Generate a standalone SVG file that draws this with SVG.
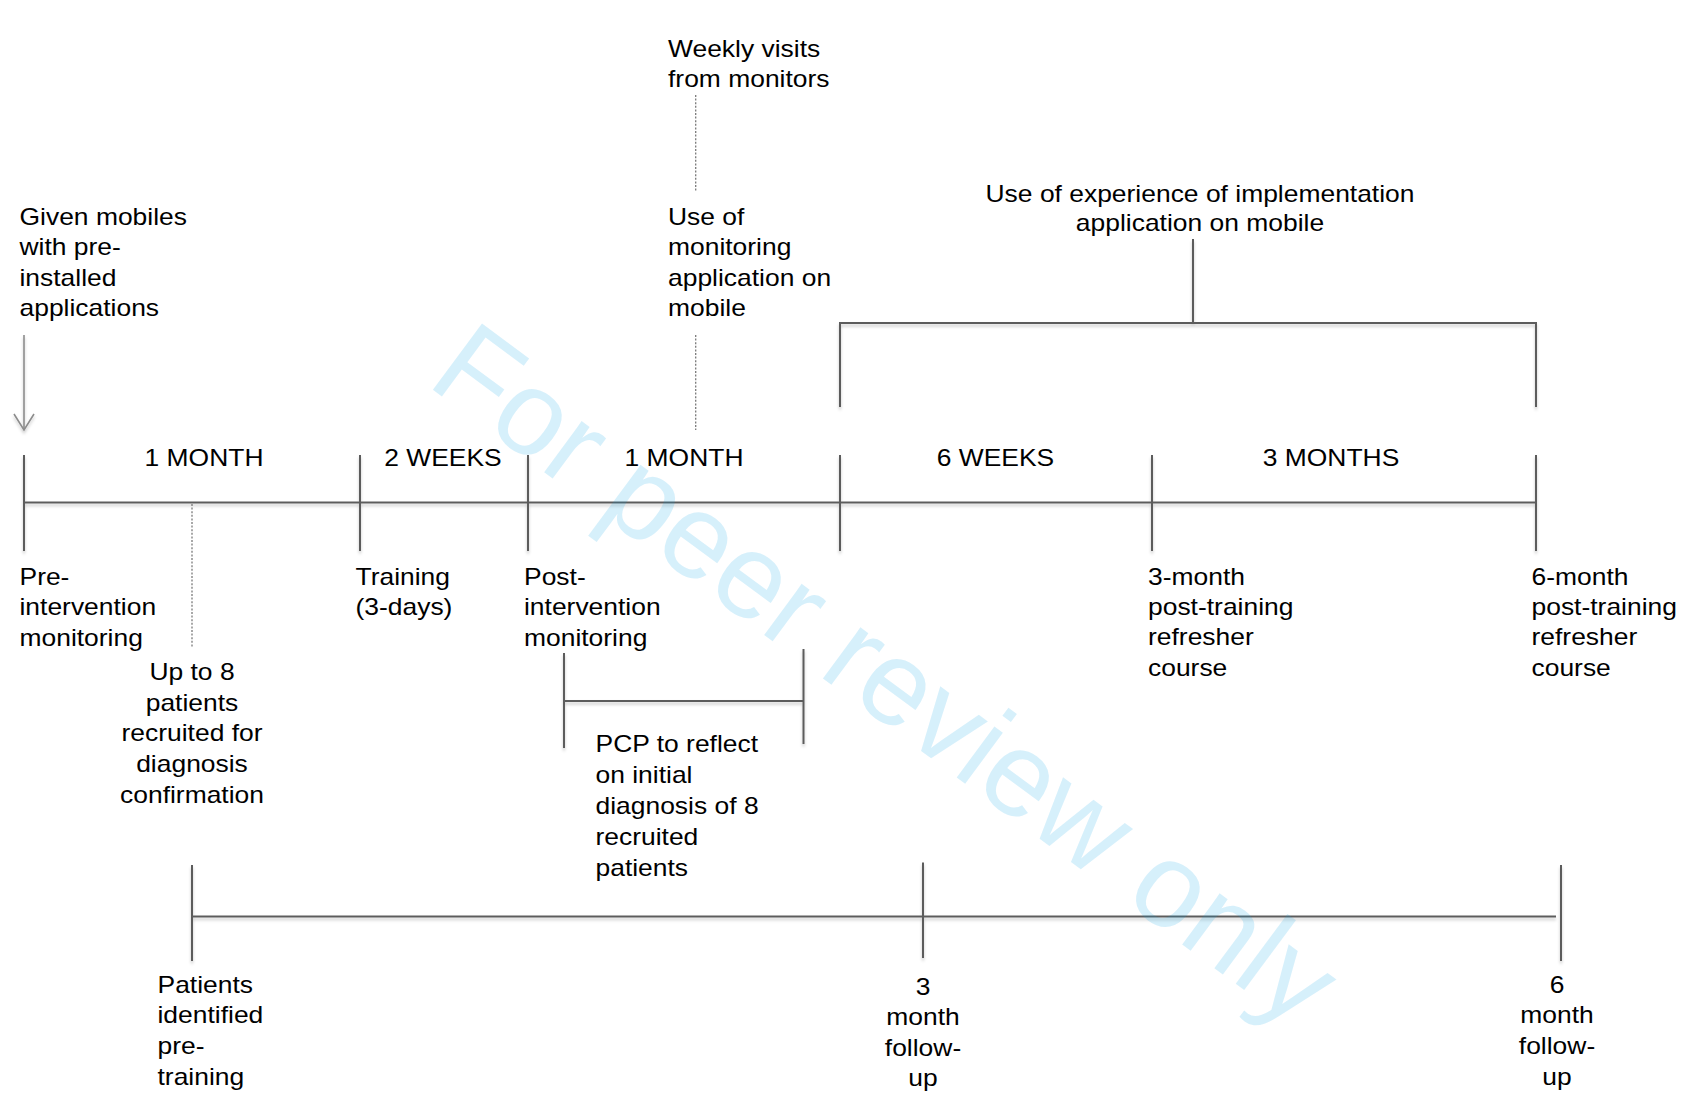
<svg xmlns="http://www.w3.org/2000/svg" width="1691" height="1104" viewBox="0 0 1691 1104">
  <style>
    .t { font-family: "Liberation Sans", Arial, sans-serif; font-size: 23.4px; fill: #000; }
    .c { text-anchor: middle; }
    .ln { stroke: #5c5c5c; stroke-width: 2; fill: none; stroke-linecap: butt; }
    .dot { stroke: #7a7a7a; stroke-width: 1.3; stroke-dasharray: 2 1.6; fill: none; }
    .arr { stroke: #8c8c8c; stroke-width: 1.6; fill: none; }
    .wm { font-family: "Liberation Sans", Arial, sans-serif; font-size: 120px; fill: #00a0e6; fill-opacity: 0.16; }
  </style>
  <defs>
    <filter id="shadow" x="-5%" y="-5%" width="110%" height="110%">
      <feDropShadow dx="0" dy="2.5" stdDeviation="1.6" flood-color="#000" flood-opacity="0.22"/>
    </filter>
  </defs>

  <rect width="1691" height="1104" fill="#fff"/>

  <!-- connectors: timelines, ticks, brackets, guide lines -->
  <g id="connectors">
    <g filter="url(#shadow)">
      <!-- main timeline -->
      <line class="ln" x1="24" y1="502.5" x2="1536" y2="502.5"/>
      <line class="ln" x1="24" y1="455" x2="24" y2="551"/>
      <line class="ln" x1="360" y1="455" x2="360" y2="551"/>
      <line class="ln" x1="528" y1="455" x2="528" y2="551"/>
      <line class="ln" x1="840" y1="455" x2="840" y2="551"/>
      <line class="ln" x1="1152" y1="455" x2="1152" y2="551"/>
      <line class="ln" x1="1536" y1="455" x2="1536" y2="551"/>
      <!-- implementation bracket -->
      <polyline class="ln" points="840,407 840,323 1536,323 1536,407"/>
      <line class="ln" x1="1193" y1="239" x2="1193" y2="323"/>
      <!-- reflection bracket -->
      <line class="ln" x1="564" y1="653" x2="564" y2="748"/>
      <line class="ln" x1="803.5" y1="649" x2="803.5" y2="744"/>
      <line class="ln" x1="564" y1="701" x2="803.5" y2="701"/>
      <!-- patient follow-up timeline -->
      <line class="ln" x1="192" y1="916.5" x2="1556" y2="916.5"/>
      <line class="ln" x1="192" y1="865" x2="192" y2="961"/>
      <line class="ln" x1="923" y1="862.5" x2="923" y2="958"/>
      <line class="ln" x1="1561" y1="865" x2="1561" y2="961"/>
      <!-- mobiles arrow -->
      <line class="arr" x1="24" y1="335" x2="24" y2="430"/>
      <polyline class="arr" points="14,414 24,430 34,414"/>
    </g>
    <!-- dotted guides -->
    <line class="dot" x1="192" y1="504" x2="192" y2="647"/>
    <line class="dot" x1="695.7" y1="95" x2="695.7" y2="192"/>
    <line class="dot" x1="695.7" y1="335" x2="695.7" y2="430"/>
  </g>

  <!-- durations -->
  <g id="dur-1">
    <text class="t c" transform="translate(204,466) scale(1.13,1)">1 MONTH</text>
  </g>
  <g id="dur-2">
    <text class="t c" transform="translate(443,466) scale(1.13,1)">2 WEEKS</text>
  </g>
  <g id="dur-3">
    <text class="t c" transform="translate(684,466) scale(1.13,1)">1 MONTH</text>
  </g>
  <g id="dur-4">
    <text class="t c" transform="translate(995.5,466) scale(1.13,1)">6 WEEKS</text>
  </g>
  <g id="dur-5">
    <text class="t c" transform="translate(1331,466) scale(1.13,1)">3 MONTHS</text>
  </g>

  <!-- labels above the timeline -->
  <g id="mobiles">
    <text class="t" transform="translate(19.5,225) scale(1.13,1)"><tspan x="0" dy="0">Given mobiles</tspan><tspan x="0" dy="30.3">with pre-</tspan><tspan x="0" dy="30.3">installed</tspan><tspan x="0" dy="30.3">applications</tspan></text>
  </g>
  <g id="weekly-visits">
    <text class="t" transform="translate(668,57.3) scale(1.13,1)"><tspan x="0" dy="0">Weekly visits</tspan><tspan x="0" dy="30">from monitors</tspan></text>
  </g>
  <g id="monitoring-app">
    <text class="t" transform="translate(668,225) scale(1.13,1)"><tspan x="0" dy="0">Use of</tspan><tspan x="0" dy="30.3">monitoring</tspan><tspan x="0" dy="30.3">application on</tspan><tspan x="0" dy="30.3">mobile</tspan></text>
  </g>
  <g id="implementation-app">
    <text class="t c" transform="translate(1200,201.5) scale(1.13,1)"><tspan x="0" dy="0">Use of experience of implementation</tspan><tspan x="0" dy="29.7">application on mobile</tspan></text>
  </g>

  <!-- labels below the timeline -->
  <g id="pre-intervention">
    <text class="t" transform="translate(19.5,585) scale(1.13,1)"><tspan x="0" dy="0">Pre-</tspan><tspan x="0" dy="30.5">intervention</tspan><tspan x="0" dy="30.5">monitoring</tspan></text>
  </g>
  <g id="training">
    <text class="t" transform="translate(355.5,585) scale(1.13,1)"><tspan x="0" dy="0">Training</tspan><tspan x="0" dy="30.5">(3-days)</tspan></text>
  </g>
  <g id="post-intervention">
    <text class="t" transform="translate(524,585) scale(1.13,1)"><tspan x="0" dy="0">Post-</tspan><tspan x="0" dy="30.5">intervention</tspan><tspan x="0" dy="30.5">monitoring</tspan></text>
  </g>
  <g id="refresher-3">
    <text class="t" transform="translate(1148,585) scale(1.13,1)"><tspan x="0" dy="0">3-month</tspan><tspan x="0" dy="30.2">post-training</tspan><tspan x="0" dy="30.2">refresher</tspan><tspan x="0" dy="30.2">course</tspan></text>
  </g>
  <g id="refresher-6">
    <text class="t" transform="translate(1531.5,585) scale(1.13,1)"><tspan x="0" dy="0">6-month</tspan><tspan x="0" dy="30.2">post-training</tspan><tspan x="0" dy="30.2">refresher</tspan><tspan x="0" dy="30.2">course</tspan></text>
  </g>
  <g id="recruitment">
    <text class="t c" transform="translate(192,680) scale(1.13,1)"><tspan x="0" dy="0">Up to 8</tspan><tspan x="0" dy="30.75">patients</tspan><tspan x="0" dy="30.75">recruited for</tspan><tspan x="0" dy="30.75">diagnosis</tspan><tspan x="0" dy="30.75">confirmation</tspan></text>
  </g>
  <g id="reflection">
    <text class="t" transform="translate(595.5,752) scale(1.13,1)"><tspan x="0" dy="0">PCP to reflect</tspan><tspan x="0" dy="31">on initial</tspan><tspan x="0" dy="31">diagnosis of 8</tspan><tspan x="0" dy="31">recruited</tspan><tspan x="0" dy="31">patients</tspan></text>
  </g>

  <!-- patient follow-up labels -->
  <g id="patients-identified">
    <text class="t" transform="translate(157.5,992.7) scale(1.13,1)"><tspan x="0" dy="0">Patients</tspan><tspan x="0" dy="30.8">identified</tspan><tspan x="0" dy="30.8">pre-</tspan><tspan x="0" dy="30.8">training</tspan></text>
  </g>
  <g id="followup-3">
    <text class="t c" transform="translate(923,995) scale(1.13,1)"><tspan x="0" dy="0">3</tspan><tspan x="0" dy="30.5">month</tspan><tspan x="0" dy="30.5">follow-</tspan><tspan x="0" dy="30.5">up</tspan></text>
  </g>
  <g id="followup-6">
    <text class="t c" transform="translate(1557,992.5) scale(1.13,1)"><tspan x="0" dy="0">6</tspan><tspan x="0" dy="30.8">month</tspan><tspan x="0" dy="30.8">follow-</tspan><tspan x="0" dy="30.8">up</tspan></text>
  </g>

  <!-- diagonal watermark -->
  <text class="wm" transform="translate(425,384) rotate(36.5)">For peer review only</text>
</svg>
